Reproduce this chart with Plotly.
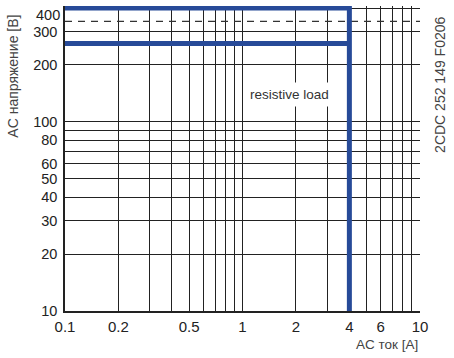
import numpy as np
import plotly.graph_objects as go

# data
x_grid = [0.1, 0.2, 0.3, 0.4, 0.5, 0.6, 0.7, 0.8, 0.9, 1, 2, 3, 4, 5, 6, 7, 8, 9, 10]
x_labels = {0.1: "0.1", 0.2: "0.2", 0.5: "0.5", 1: "1", 2: "2", 4: "4", 6: "6", 10: "10"}
y_grid = [10, 20, 30, 40, 50, 60, 70, 80, 90, 100, 200, 300, 400]
y_labels = {10: "10", 20: "20", 30: "30", 40: "40", 50: "50", 60: "60", 80: "80",
            100: "100", 200: "200", 300: "300"}

# boundary of the resistive load region
load_x = [0.1, 4, 4]
load_y = [400, 400, 10]
lower_x = [0.1, 4]
lower_y = [260, 260]
dashed_x = [0.1, 10]
dashed_y = [340, 340]

blue = "#274a98"
font = "Liberation Sans, Arial, sans-serif"

fig = go.Figure()

fig.add_trace(go.Scatter(x=dashed_x, y=dashed_y, mode="lines",
                         line=dict(color="#333", width=1.3, dash="7px,6px"),
                         showlegend=False, hoverinfo="skip"))
fig.add_trace(go.Scatter(x=load_x, y=load_y, mode="lines",
                         line=dict(color=blue, width=5),
                         showlegend=False, hoverinfo="skip"))
fig.add_trace(go.Scatter(x=lower_x, y=lower_y, mode="lines",
                         line=dict(color=blue, width=5),
                         showlegend=False, hoverinfo="skip"))

fig.update_xaxes(type="log", range=[-1, 1],
                 tickvals=x_grid, ticktext=[x_labels.get(v, "") for v in x_grid],
                 showgrid=True, gridcolor="#222", gridwidth=1.2,
                 showline=True, linecolor="#222", linewidth=1.5,
                 ticks="", zeroline=False, ticklabelstandoff=1,
                 tickfont=dict(family=font, size=15, color="#222"))
fig.update_yaxes(type="log", range=[1, np.log10(410)],
                 tickvals=y_grid, ticktext=[y_labels.get(v, "") for v in y_grid],
                 showgrid=True, gridcolor="#222", gridwidth=1.2,
                 showline=True, linecolor="#222", linewidth=1.5,
                 ticks="", zeroline=False, ticklabelstandoff=3,
                 tickfont=dict(family=font, size=14.5, color="#222"))

# 400 label sits a bit below its grid line in the original
fig.add_annotation(x=0, xref="paper", y=np.log10(400), yref="y", text="400",
                   showarrow=False, xanchor="right", yanchor="middle", xshift=-3, yshift=-7,
                   font=dict(family=font, size=14.5, color="#222"))

fig.add_annotation(x=np.log10(1.85), y=np.log10(140), text="resistive load",
                   showarrow=False, bgcolor="white", borderpad=4,
                   font=dict(family=font, size=13.5, color="#333"))

fig.add_annotation(x=1, xref="paper", y=-0.11, yref="paper", text="AC ток [A]",
                   showarrow=False, xanchor="right", yanchor="middle",
                   font=dict(family=font, size=13.5, color="#444"))
fig.add_annotation(x=-0.145, xref="paper", y=0.77, yref="paper", text="AC напряжение [В]",
                   showarrow=False, textangle=-90, xanchor="center", yanchor="middle",
                   font=dict(family=font, size=14, color="#444"))
fig.add_annotation(x=1.058, xref="paper", y=0.74, yref="paper", text="2CDC 252 149 F0206",
                   showarrow=False, textangle=-90, xanchor="center", yanchor="middle",
                   font=dict(family=font, size=14, color="#444"))

fig.update_layout(width=454, height=358,
                  margin=dict(l=65, r=34, t=6, b=47),
                  paper_bgcolor="white", plot_bgcolor="white")

fig.write_html("out.html", config={"displayModeBar": False},
               post_script="document.body.style.margin='0';")
